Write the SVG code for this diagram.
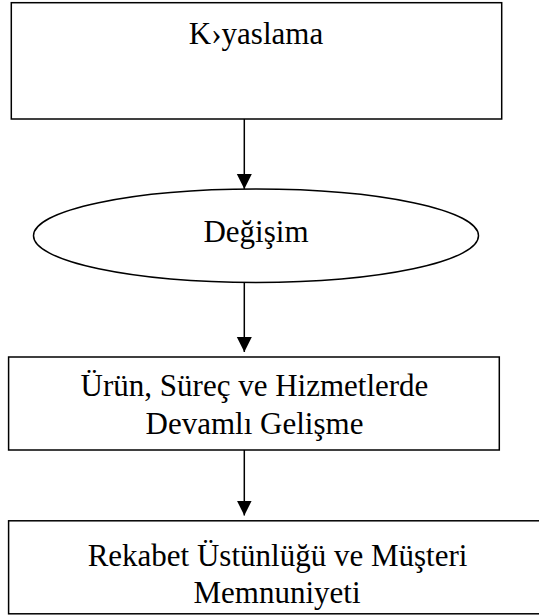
<svg xmlns="http://www.w3.org/2000/svg" width="539" height="615" viewBox="0 0 539 615">
<style>
.shape{fill:#fff;stroke:#000;stroke-width:1.5}
.lbl{font-family:"Liberation Serif","Times New Roman",serif;font-size:31px;fill:#000;text-anchor:middle}
.conn{stroke:#000;stroke-width:1.5;fill:none}
</style>
<defs>
<marker id="arr" markerUnits="userSpaceOnUse" markerWidth="16" markerHeight="16" viewBox="0 0 16 16" refX="15" refY="8" orient="auto">
<path d="M0,0.5 L15,8 L0,15.5 Z" fill="#000"/>
</marker>
</defs>
<rect width="539" height="615" fill="#fff"/>
<g id="node-kiyaslama">
<rect class="shape" x="11.3" y="2.7" width="490.4" height="116.3"/>
<text class="lbl" x="256" y="43.5">K›yaslama</text>
</g>
<g id="node-degisim">
<ellipse class="shape" cx="256" cy="235.7" rx="222.5" ry="46.7"/>
<text class="lbl" x="256" y="242">Değişim</text>
</g>
<g id="node-gelisme">
<rect class="shape" x="8.6" y="357" width="490.7" height="93"/>
<text class="lbl" x="254.5" y="396">Ürün, Süreç ve Hizmetlerde</text>
<text class="lbl" x="254.5" y="433.5">Devamlı Gelişme</text>
</g>
<g id="node-rekabet">
<rect class="shape" x="8.6" y="520.8" width="540" height="93"/>
<text class="lbl" x="277.5" y="565.5">Rekabet Üstünlüğü ve Müşteri</text>
<text class="lbl" x="277" y="602.5">Memnuniyeti</text>
</g>
<g id="connectors">
<line class="conn" x1="244.3" y1="119" x2="244.3" y2="189" marker-end="url(#arr)"/>
<line class="conn" x1="244.3" y1="282.4" x2="244.3" y2="352" marker-end="url(#arr)"/>
<line class="conn" x1="244.3" y1="450" x2="244.3" y2="515.5" marker-end="url(#arr)"/>
</g>
</svg>
